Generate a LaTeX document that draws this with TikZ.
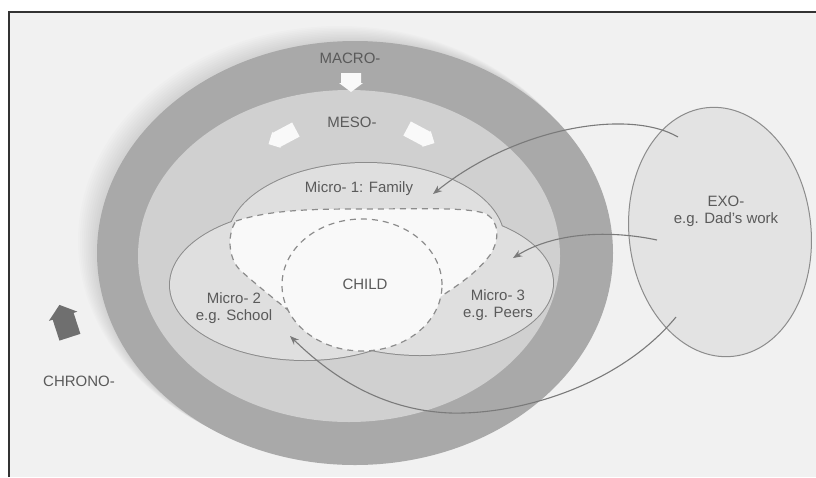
\documentclass[tikz,border=0pt]{standalone}
\usepackage{fontspec}
\setmainfont{Liberation Sans}
\usetikzlibrary{arrows.meta}
\definecolor{bg}{HTML}{F1F1F1}
\definecolor{macroc}{HTML}{A9A9A9}
\definecolor{mesoc}{HTML}{D0D0D0}
\definecolor{microc}{HTML}{DFDFDF}
\definecolor{whitec}{HTML}{F9F9F9}
\definecolor{exoc}{HTML}{E3E3E3}
\definecolor{ink}{HTML}{5A5A5A}
\definecolor{edgec}{HTML}{8C8C8C}
\definecolor{connc}{HTML}{7A7A7A}
\definecolor{chronoc}{HTML}{6F6F6F}
\begin{document}
\begin{tikzpicture}[x=1pt,y=-1pt,
 lbl/.style={font=\fontsize{15}{17}\selectfont, text=ink, align=center, inner sep=0pt},
 conn/.style={draw=connc, line width=1.1pt, -{Stealth[length=9pt,width=7pt]}},
 dsh/.style={draw=edgec, line width=1.2pt, dash pattern=on 6pt off 5pt},
 blockarr/.pic={\fill[whitec] (-8,-18) -- (8,-18) -- (8,4) -- (9,4) -- (0,13) -- (-9,4) -- (-8,4) -- cycle;},
 toparr/.pic={\fill[whitec] (-10,-9) -- (10,-9) -- (10,1) -- (12,1) -- (0,10) -- (-12,1) -- (-10,1) -- cycle;},
 chronoarr/.pic={\fill[chronoc] (0,-18) -- (15,-6) -- (11,-6) -- (11,16) -- (-11,16) -- (-11,-6) -- (-15,-6) -- cycle;},
 ]
\useasboundingbox (0,0) rectangle (816,477);
\fill[white] (0,0) rectangle (816,477);
\fill[bg] (9,11.5) rectangle (816,477);
% soft shadow of the outer ellipse
\foreach \i in {1,...,10} {
  \fill[black, opacity=0.012] (355-1.6*\i,253-1.2*\i) ellipse [x radius=258pt+0.3pt*\i, y radius=212pt+0.3pt*\i];
}
% macro and meso
\fill[macroc] (355,253) ellipse [x radius=258pt, y radius=212pt];
\fill[mesoc] (349,256) ellipse [x radius=211pt, y radius=166pt];
% micro systems (union outline)
\draw[edgec, line width=2pt] (366,240) ellipse [x radius=138pt, y radius=77pt];
\draw[edgec, line width=2pt] (305,285) ellipse [x radius=135pt, y radius=75pt];
\draw[edgec, line width=2pt] (420,283) ellipse [x radius=133pt, y radius=72pt];
\fill[microc] (366,240) ellipse [x radius=138pt, y radius=77pt];
\fill[microc] (305,285) ellipse [x radius=135pt, y radius=75pt];
\fill[microc] (420,283) ellipse [x radius=133pt, y radius=72pt];
% overlap region
\path[fill=whitec, dsh] (236,221) .. controls (270,210) and (310,209) .. (360,209)
  .. controls (420,209) and (462,207) .. (484,213)
  .. controls (500,220) and (500,240) .. (490,255)
  .. controls (476,274) and (455,287) .. (440,297)
  .. controls (410,318) and (370,345) .. (338,348)
  .. controls (310,328) and (262,290) .. (240,270)
  .. controls (228,258) and (227,234) .. (236,221) -- cycle;
% child
\path[fill=whitec, dsh] (362,285) ellipse [x radius=80pt, y radius=66pt];
% exo
\draw[edgec, fill=exoc, line width=1pt, rotate around={6:(720,232)}] (720,232) ellipse [x radius=91pt, y radius=125pt];
% block arrows
\pic at (351,82) {toparr};
\pic[rotate=-62] at (280,138) {blockarr};
\pic[rotate=62] at (423,137) {blockarr};
\pic[rotate=18] at (65,322) {chronoarr};
% labels
\node[lbl] (macro) at (350,58) {MACRO-};
\node[lbl] (meso) at (352,122) {MESO-};
\node[lbl] (m1) at (359,189) {Micro- 1: Family};
\node[lbl] (child) at (365,284) {CHILD};
\node[lbl] (m2) at (234,308) {Micro- 2\\e.g. School};
\node[lbl] (m3) at (498,305) {Micro- 3\\e.g. Peers};
\node[lbl] (exo) at (726,211) {EXO-\\e.g. Dad's work};
\node[lbl] (chrono) at (79,381) {CHRONO-};
% connectors
\coordinate (s1) at (678,137); \coordinate (t1) at (433,194);
\coordinate (s2) at (657,240); \coordinate (t2) at (513,258);
\coordinate (s3) at (676,317); \coordinate (v3) at (450,413); \coordinate (t3) at (290,336);
\draw[conn] (s1) .. controls (628,108) and (515,128) .. (t1);
\draw[conn] (s2) .. controls (610,230) and (555,232) .. (t2);
\draw[conn] (s3) .. controls (620,385) and (520,415) .. (v3) .. controls (380,410) and (330,375) .. (t3);
% frame
\draw[line width=2pt, black!80] (9,477) -- (9,11.5) -- (816,11.5);
\end{tikzpicture}
\end{document}
